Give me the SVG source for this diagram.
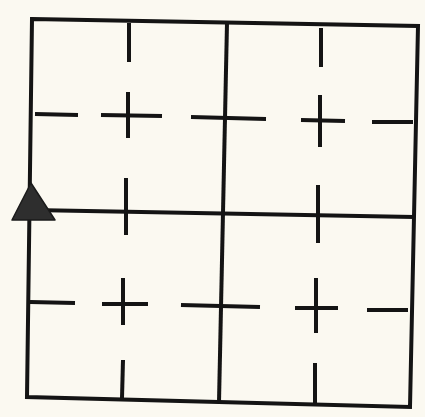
<svg xmlns="http://www.w3.org/2000/svg" width="425" height="417" viewBox="0 0 425 417">
<style>
.l{stroke:#141414;stroke-width:4;fill:none;stroke-linecap:butt}
</style>
<rect x="0" y="0" width="425" height="417" fill="#fbf9f1"/>
<g id="outer">
<polygon class="l" points="32,19 418,26 410,407 27,397" stroke-linejoin="miter"/>
</g>
<g id="walls">
<line class="l" x1="227" y1="23" x2="219" y2="402"/>
<line class="l" x1="32" y1="210" x2="414" y2="217"/>
</g>
<g id="dashes-upper">
<line class="l" x1="35" y1="114" x2="78" y2="115"/>
<line class="l" x1="101" y1="115" x2="162" y2="116"/>
<line class="l" x1="191" y1="117" x2="266" y2="119"/>
<line class="l" x1="301" y1="120" x2="345" y2="121"/>
<line class="l" x1="372" y1="122" x2="413" y2="122"/>
<line class="l" x1="129" y1="23" x2="129" y2="62"/>
<line class="l" x1="128" y1="92" x2="128" y2="138"/>
<line class="l" x1="126" y1="178" x2="126" y2="235"/>
<line class="l" x1="321" y1="28" x2="321" y2="67"/>
<line class="l" x1="320" y1="95" x2="320" y2="147"/>
<line class="l" x1="318" y1="185" x2="318" y2="243"/>
</g>
<g id="dashes-lower">
<line class="l" x1="30" y1="302" x2="75" y2="303"/>
<line class="l" x1="102" y1="304" x2="148" y2="304"/>
<line class="l" x1="181" y1="305" x2="260" y2="307"/>
<line class="l" x1="295" y1="308" x2="338" y2="308"/>
<line class="l" x1="367" y1="310" x2="408" y2="310"/>
<line class="l" x1="123" y1="278" x2="123" y2="325"/>
<line class="l" x1="123" y1="360" x2="122" y2="398"/>
<line class="l" x1="316" y1="278" x2="316" y2="333"/>
<line class="l" x1="315" y1="363" x2="315" y2="404"/>
</g>
<g id="entrance">
<polygon points="31,183 12,220 55,220" fill="#2e2e2e" stroke="#1a1a1a" stroke-width="1.5" stroke-linejoin="round"/>
</g>
</svg>
